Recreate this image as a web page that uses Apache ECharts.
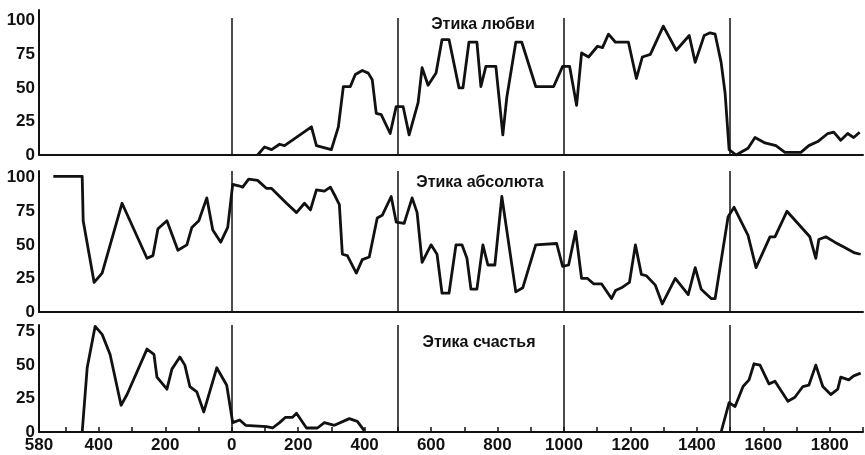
<!DOCTYPE html>
<html>
<head>
<meta charset="utf-8">
<script src="https://cdn.jsdelivr.net/npm/echarts@6/dist/echarts.min.js"></script>
<style>
html,body{margin:0;padding:0;background:#fff;}
#chart{width:865px;height:455px;}
</style>
</head>
<body>
<div id="chart"></div>
<script>
// Panel titles
const titles = ['Этика любви', 'Этика абсолюта', 'Этика счастья'];

// Этика любви: [year, value]
const loveData = [
  [78,0],[99,6],[120,4],[144,8],[159,7],[240,21],[255,7],[300,4],[321,21],[336,51],[357,51],
  [372,60],[393,63],[411,61],[423,56],[435,31],[450,30],[477,16],[495,36],[516,36],[534,15],
  [561,39],[573,65],[591,52],[615,61],[633,86],[654,86],[684,50],[696,50],[714,84],[738,84],
  [750,51],[765,66],[795,66],[816,15],[828,43],[855,84],[873,84],[915,51],[969,51],[996,66],
  [1017,66],[1038,37],[1053,76],[1074,73],[1101,81],[1116,80],[1134,90],[1155,84],[1194,84],
  [1218,57],[1236,73],[1260,75],[1299,96],[1338,78],[1377,89],[1395,69],[1422,89],[1440,91],
  [1455,90],[1473,69],[1485,46],[1497,4],[1518,0],[1554,5],[1575,13],[1605,9],[1638,7],
  [1665,2],[1713,2],[1737,7],[1764,10],[1794,16],[1812,17],[1833,11],[1854,16],[1872,13],[1890,17]
];

// Этика абсолюта: [year, value]
const absoluteData = [
  [-537,101],[-450,101],[-447,68],[-414,22],[-390,29],[-330,81],[-255,40],[-237,42],[-222,62],
  [-195,68],[-162,46],[-135,50],[-120,63],[-99,68],[-75,85],[-57,61],[-33,52],[-12,63],[3,95],
  [21,94],[33,93],[51,99],[78,98],[105,92],[120,92],[165,81],[195,74],[219,81],[237,76],[255,91],
  [279,90],[297,93],[312,86],[324,80],[333,43],[348,42],[375,29],[393,39],[414,41],[438,70],
  [453,72],[480,86],[495,67],[519,66],[543,85],[558,74],[573,37],[600,50],[618,43],[633,14],
  [654,14],[675,50],[693,50],[708,40],[720,17],[738,17],[756,50],[771,35],[792,35],[813,86],
  [855,15],[876,18],[915,50],[978,51],[996,34],[1014,35],[1035,60],[1053,25],[1071,25],[1089,21],
  [1113,21],[1143,10],[1155,16],[1173,18],[1197,22],[1215,50],[1233,28],[1248,27],[1275,20],
  [1296,6],[1335,25],[1374,13],[1395,33],[1413,17],[1443,10],[1455,10],[1494,71],[1512,78],
  [1554,57],[1578,33],[1620,56],[1635,56],[1671,75],[1740,56],[1758,40],[1767,54],[1788,56],
  [1815,52],[1845,48],[1875,44],[1893,43]
];

// Этика счастья: [year, value]; null = gap
const happinessData = [
  [-450,0],[-435,48],[-411,79],[-390,73],[-366,58],[-333,20],[-315,28],[-255,62],[-234,58],
  [-225,41],[-195,32],[-180,47],[-156,56],[-141,50],[-126,34],[-105,30],[-84,15],[-45,48],
  [-15,35],[3,7],[24,9],[42,5],[105,4],[123,3],[144,7],[162,11],[183,11],[195,14],[225,3],
  [258,3],[279,7],[309,5],[354,10],[378,8],[399,1],
  [null,null],
  [1473,0],[1497,22],[1515,19],[1539,34],[1557,39],[1572,51],[1590,50],[1617,36],[1635,38],
  [1674,23],[1695,26],[1719,34],[1737,35],[1758,50],[1779,34],[1803,28],[1824,32],[1833,41],
  [1857,39],[1872,42],[1893,44]
];

// Axis values
const xMin = -580, xMax = 1900;
const periodLines = [0, 500, 1000, 1500];
const xTickValues = [-500,-400,-300,-200,-100,0,100,200,300,400,500,600,700,800,900,1000,1100,1200,1300,1400,1500,1600,1700,1800,1900];
const xLabelValues = [-580,-400,-200,0,200,400,600,800,1000,1200,1400,1600,1800];
const yMaxes = [108, 105, 80];
const topLineEnd = 102;

const FONT = '"Liberation Sans", Arial, Helvetica, sans-serif';
const BLACK = '#111';

const grids = [
  {left: 39, right: 2, top: 10, height: 145},
  {left: 39, right: 2, top: 171, height: 141},
  {left: 39, right: 2, top: 325, height: 107}
];

const xAxes = [0,1,2].map(i => ({
  type: 'value', gridIndex: i, min: xMin, max: xMax,
  axisLine: {show: true, onZero: false, lineStyle: {color: BLACK, width: 2}},
  splitLine: {show: false},
  axisTick: i === 2 ? {show: true, inside: true, length: 5, customValues: xTickValues, lineStyle: {color: BLACK, width: 1.5}} : {show: false},
  axisLabel: i === 2 ? {
    show: true, customValues: xLabelValues, color: BLACK, fontFamily: FONT, fontWeight: 'bold', fontSize: 17, margin: 5,
    formatter: v => String(Math.abs(v))
  } : {show: false}
}));

const yAxes = [0,1,2].map(i => ({
  type: 'value', gridIndex: i, min: 0, max: yMaxes[i], interval: 25,
  axisLine: {show: true, onZero: false, lineStyle: {color: BLACK, width: 2}},
  axisTick: {show: false},
  splitLine: {show: false},
  axisLabel: {
    color: BLACK, fontFamily: FONT, fontWeight: 'bold', fontSize: 17, margin: 4,
    formatter: v => (v % 25 === 0 ? String(v) : '')
  }
}));

function vLines(i) {
  const top = i === 0 ? topLineEnd : yMaxes[i];
  return periodLines.map(x => [{xAxis: x, yAxis: 0}, {xAxis: x, yAxis: top}]);
}

const datasets = [loveData, absoluteData, happinessData];
const series = datasets.map((d, i) => ({
  type: 'line', xAxisIndex: i, yAxisIndex: i, data: d,
  showSymbol: false, connectNulls: false, animation: false,
  lineStyle: {color: BLACK, width: 2.8, join: 'round'},
  markLine: {
    silent: true, symbol: 'none', animation: false,
    label: {show: false},
    lineStyle: {color: BLACK, width: 1.5, type: 'solid'},
    data: vLines(i)
  }
}));

const titlePos = [[483, 25], [480, 183], [479, 343]];
const graphics = titles.map((t, i) => ({
  type: 'text', x: titlePos[i][0], y: titlePos[i][1], z: 100,
  style: {text: t, fill: BLACK, font: 'bold 16px ' + FONT, textAlign: 'center', textVerticalAlign: 'middle'}
}));

const chart = echarts.init(document.getElementById('chart'), null, {renderer: 'canvas'});
chart.setOption({
  animation: false,
  backgroundColor: '#fff',
  grid: grids,
  xAxis: xAxes,
  yAxis: yAxes,
  series: series,
  graphic: graphics
});
</script>
</body>
</html>
